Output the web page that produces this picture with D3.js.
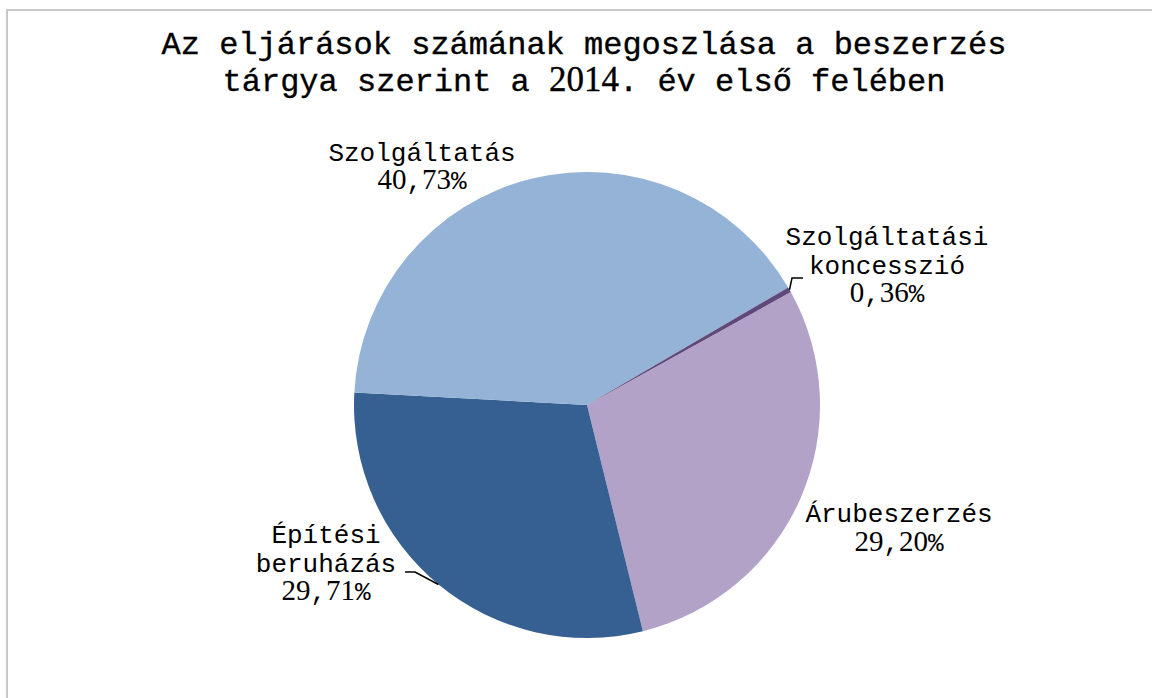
<!DOCTYPE html>
<html lang="hu">
<head>
<meta charset="UTF-8">
<title>Az eljárások számának megoszlása</title>
<style>
    body { margin: 0; background: #fff; }
    svg { display: block; }
</style>
</head>
<body>
<div id="chart"></div>
<script src="https://d3js.org/d3.v7.min.js"></script>
<script>
    // data
    const categories = ["Árubeszerzés", "Építési beruházás", "Szolgáltatás", "Szolgáltatási koncesszió"];
    const shares = [29.20, 29.71, 40.73, 0.36];
    const labelLines = [["Árubeszerzés"], ["Építési", "beruházás"], ["Szolgáltatás"], ["Szolgáltatási", "koncesszió"]];
    const titleLines = ["Az eljárások számának megoszlása a beszerzés", "tárgya szerint a 2014. év első felében"];

    const colors = ["#b3a2c7", "#376092", "#95b3d7", "#60497a"];

    const W = 1152, H = 698;
    const cx = 587, cy = 405, R = 233;
    const MONO = "'Liberation Mono', 'Courier New', monospace";
    const SERIF = "'Liberation Serif', 'Times New Roman', serif";

    // label layout (center x, first baseline, line step) and leader elbows
    const labelPos = [
        { x: 899, y: 522, step: 28.5 },
        { x: 326, y: 543, step: 28.5 },
        { x: 422, y: 161, step: 27.5 },
        { x: 887, y: 245, step: 28.5 }
    ];
    const leaders = [null, [[415, 572], [405, 572]], null, [[792, 278], [803, 278]]];

    const svg = d3.select("#chart").append("svg")
        .attr("width", W).attr("height", H);

    svg.append("rect").attr("width", W).attr("height", H).attr("fill", "#fff");
    svg.append("rect")
        .attr("x", 7).attr("y", 10)
        .attr("width", W + 50).attr("height", H + 50)
        .attr("fill", "none").attr("stroke", "#c8c8c8").attr("stroke-width", 2);

    // write a string splitting digit runs into a serif face
    function mixed(textSel, str, monoSize, numSize) {
        const runs = str.match(/[0-9]+|[^0-9]+/g);
        runs.forEach(r => {
            const isNum = /^[0-9]+$/.test(r);
            textSel.append("tspan")
                .style("font-family", isNum ? SERIF : MONO)
                .style("font-size", (isNum ? numSize : monoSize) + "px")
                .text(r);
        });
    }

    // title
    const title = svg.append("g");
    titleLines.forEach((ln, i) => {
        const t = title.append("text")
            .attr("x", 584).attr("y", 54 + i * 37)
            .attr("text-anchor", "middle")
            .attr("fill", "#000")
            .attr("stroke", "#000")
            .attr("stroke-width", 0.35)
            .attr("xml:space", "preserve");
        mixed(t, ln, 32, 35);
    });

    const pie = d3.pie().sort(null)
        .startAngle(61 * Math.PI / 180)
        .endAngle(61 * Math.PI / 180 + 2 * Math.PI);
    const arcs = pie(shares);
    const arc = d3.arc().innerRadius(0).outerRadius(R);

    const g = svg.append("g").attr("transform", `translate(${cx},${cy})`);
    g.selectAll("path.slice")
        .data(arcs)
        .enter().append("path")
        .attr("class", "slice")
        .attr("d", arc)
        .attr("fill", (d, i) => colors[i]);

    // leader lines
    arcs.forEach((d, i) => {
        if (!leaders[i]) return;
        const a = (d.startAngle + d.endAngle) / 2;
        const p0 = [cx + R * Math.sin(a), cy - R * Math.cos(a)];
        svg.append("path")
            .attr("d", d3.line()([p0].concat(leaders[i])))
            .attr("fill", "none")
            .attr("stroke", "#000")
            .attr("stroke-width", 1.5);
    });

    // data labels
    const fmt = v => v.toFixed(2).replace(".", ",") + "%";
    arcs.forEach((d, i) => {
        const lp = labelPos[i];
        const lines = labelLines[i].concat([fmt(shares[i])]);
        lines.forEach((ln, j) => {
            const t = svg.append("text")
                .attr("x", lp.x).attr("y", lp.y + j * lp.step)
                .attr("text-anchor", "middle")
                .attr("fill", "#000");
            mixed(t, ln, 26, 29);
        });
    });
</script>
</body>
</html>
